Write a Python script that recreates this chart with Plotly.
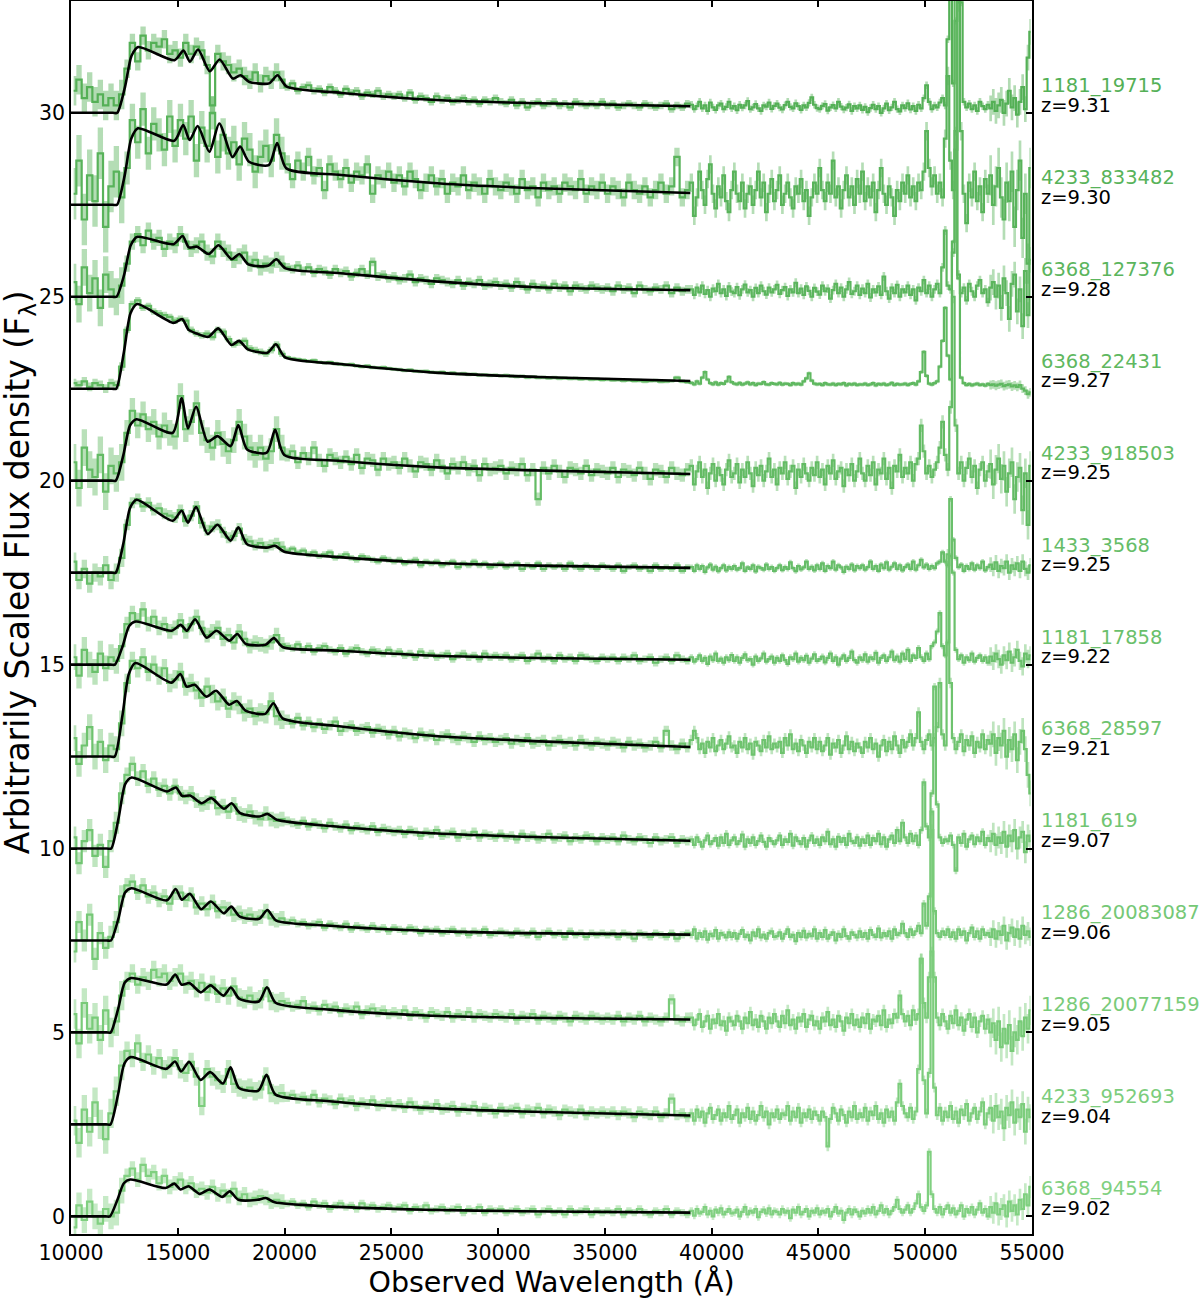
import numpy as np
import plotly.graph_objects as go

# ---------------- data ----------------
# bin centres in Angstrom: 250 A bins blueward of 39000 A, 125 A bins redward
WAVE = np.concatenate([np.arange(10125, 39000, 250), np.arange(39062.5, 55000, 125)])

NAMES = ["1181_19715", "4233_833482", "6368_127376", "6368_22431", "4233_918503",
         "1433_3568", "1181_17858", "6368_28597", "1181_619", "1286_20083087",
         "1286_20077159", "4233_952693", "6368_94554"]
REDSHIFTS = [9.31, 9.30, 9.28, 9.27, 9.25, 9.25, 9.22, 9.21, 9.07, 9.06, 9.05, 9.04, 9.02]
OFFSETS = [30.0, 27.5, 25.0, 22.5, 20.0, 17.5, 15.0, 12.5, 10.0, 7.5, 5.0, 2.5, 0.0]

FLUX_0 = [0.6, 0.9, 0.4, 0.7, 0.3, 0.5, 0.2, 0.4, 0.2, 0.5, 1.2, 1.9, 1.4, 2.1, 1.7, 1.9, 1.8, 2.0, 1.6, 1.7,
          1.5, 1.9, 1.6, 1.8, 1.7, 1.3, 0.2, 1.6, 1.4, 1.3, 1.1, 1.2, 1.0, 0.9, 1.1, 0.8, 1.0, 0.9, 1.1, 0.9,
          0.7, 0.8, 0.6, 0.7, 0.75, 0.6, 0.65, 0.55, 0.7, 0.6, 0.5, 0.65, 0.55, 0.6, 0.45, 0.55, 0.5, 0.6, 0.45, 0.5,
          0.45, 0.5, 0.4, 0.55, 0.35, 0.45, 0.4, 0.3, 0.45, 0.35, 0.4, 0.3, 0.35, 0.4, 0.3, 0.35, 0.25, 0.35, 0.3, 0.4,
          0.3, 0.25, 0.35, 0.2, 0.3, 0.15, 0.25, 0.3, 0.2, 0.25, 0.3, 0.2, 0.25, 0.15, 0.3, 0.25, 0.2, 0.25, 0.2, 0.3,
          0.2, 0.25, 0.15, 0.2, 0.25, 0.2, 0.15, 0.25, 0.2, 0.15, 0.2, 0.25, 0.1, 0.2, 0.15, 0.25] + \
         [0.22, 0.1, 0.18, 0.3, 0.12, 0.2, 0.05, 0.28, 0.15, 0.08, 0.2, 0.25, 0.1, 0.16, 0.3, 0.12,
          0.18, 0.07, 0.22, 0.14, 0.2, 0.32, 0.1, 0.15, 0.24, 0.12, 0.05, 0.2, 0.17, 0.28, 0.11, 0.19,
          0.25, 0.14, 0.09, 0.21, 0.3, 0.16, 0.12, 0.26, 0.18, 0.08, 0.2, 0.15, 0.27, 0.42, 0.22, 0.13,
          0.1, 0.19, 0.24, 0.06, 0.15, 0.21, 0.12, 0.3, 0.17, 0.09, 0.14, 0.23, 0.05, 0.18, 0.12, 0.2,
          0.08, 0.16, 0.02, 0.13, 0.22, 0.1, 0.18, 0.0, 0.12, 0.25, 0.07, 0.15, 0.3, 0.1, 0.04, 0.2,
          0.13, 0.26, 0.09, 0.18, 0.05, 0.22, 0.12, 0.4, 0.75, 0.3, 0.1, 0.2, 0.15, 0.28, 0.4, 0.2,
          2.0, 5.0, 0.8, 2.5, 7.0, 3.0, 0.3, 0.15, 0.25, 0.1, 0.2, 0.05, 0.3, 0.18, 0.1, 0.22,
          0.12, 0.3, 0.05, 0.2, 0.35, 0.0, 0.25, 0.6, 0.15, 0.4, -0.05, 0.3, 0.7, 0.1, 1.5, 2.2]
FLUX_1 = [0.3, 1.2, -0.4, 0.8, 0.1, 1.4, -0.6, 0.5, 0.9, 0.2, 1.0, 2.3, 1.7, 2.6, 1.4, 2.2, 1.9, 1.5, 2.4, 1.6,
          2.3, 1.8, 2.4, 1.2, 2.1, 1.6, 2.5, 1.3, 1.9, 1.4, 1.7, 1.1, 1.8, 1.5, 0.9, 1.3, 1.6, 1.2, 1.9, 1.4,
          1.1, 0.7, 1.2, 0.9, 1.3, 0.8, 1.0, 0.4, 1.1, 0.9, 0.7, 1.0, 0.6, 0.9, 0.8, 1.1, 0.3, 0.8, 0.7, 0.9,
          0.6, 0.8, 0.5, 0.9, 0.7, 0.4, 0.6, 0.8, 0.5, 0.7, 0.3, 0.6, 0.5, 0.8, 0.4, 0.6, 0.5, 0.3, 0.7, 0.5,
          0.4, 0.6, 0.5, 0.3, 0.7, 0.4, 0.5, 0.2, 0.6, 0.4, 0.5, 0.3, 0.6, 0.5, 0.4, 0.7, 0.3, 0.5, 0.4, 0.6,
          0.3, 0.5, 0.4, 0.2, 0.6, 0.4, 0.3, 0.5, 0.2, 0.4, 0.6, 0.3, 0.5, 1.3, 0.2, 0.4] + \
         [0.6, -0.3, 0.2, 0.9, 0.4, 0.0, 0.7, 1.1, 0.3, -0.1, 0.5, 0.2, 0.8, 0.1, -0.2, 0.4,
          0.9, 0.3, 0.1, 0.6, -0.1, 0.3, 0.5, 0.0, 0.4, 0.9, 0.2, 0.6, -0.2, 0.3, 0.7, 0.1,
          0.4, 0.8, 0.0, 0.3, 0.6, 0.2, -0.1, 0.5, 0.3, 0.7, 0.1, 0.4, -0.3, 0.2, 0.6, 0.3,
          1.0, 0.4, 0.1, 0.6, 0.3, 1.2, 0.2, 0.5, -0.1, 0.4, 0.8, 0.2, 0.5, 0.0, 0.7, 0.3,
          0.9, 0.1, 0.5, 0.2, 0.6, -0.2, 0.4, 1.0, 0.3, 0.0, 0.5, 0.2, -0.3, 0.4, 0.1, 0.6,
          0.3, 0.8, 0.2, 0.5, 0.1, 0.6, 0.4, 0.9, 2.0, 1.0, 0.5, 0.8, 0.3, 0.6, 0.2, 1.8,
          3.5, 1.2, 0.4, 1.5, 5.5, 2.0, 0.3, -0.5, 0.6, 0.2, 0.9, 0.1, 0.5, -0.2, 0.7, 0.3,
          0.8, 0.0, 0.5, 1.0, 0.2, -0.4, 0.6, 0.1, 0.9, -0.6, 0.4, 1.2, -0.9, 0.3, -1.6, 1.0]
FLUX_2 = [0.4, -0.2, 0.8, 0.1, 0.5, -0.3, 0.6, 0.2, 0.0, 0.3, 0.9, 1.5, 1.7, 1.4, 1.8, 1.5, 1.6, 1.3, 1.5, 1.4,
          1.7, 1.5, 1.3, 1.4, 1.5, 1.2, 1.1, 1.5, 1.3, 1.2, 1.0, 1.1, 1.2, 0.9, 1.0, 0.8, 0.9, 0.85, 1.0, 0.9,
          0.8, 0.75, 0.85, 0.7, 0.8, 0.65, 0.75, 0.7, 0.6, 0.75, 0.65, 0.7, 0.55, 0.65, 0.75, 0.6, 0.95, 0.55, 0.6, 0.5,
          0.55, 0.45, 0.5, 0.6, 0.4, 0.5, 0.45, 0.35, 0.5, 0.45, 0.4, 0.35, 0.45, 0.3, 0.4, 0.35, 0.45, 0.3, 0.35, 0.4,
          0.3, 0.35, 0.25, 0.4, 0.3, 0.2, 0.35, 0.25, 0.3, 0.2, 0.35, 0.25, 0.3, 0.15, 0.3, 0.25, 0.2, 0.3, 0.25, 0.2,
          0.25, 0.15, 0.3, 0.2, 0.25, 0.1, 0.3, 0.2, 0.15, 0.25, 0.2, 0.3, 0.1, 0.25, 0.15, 0.2] + \
         [0.2, 0.05, 0.25, 0.12, 0.3, 0.08, 0.18, 0.0, 0.22, 0.15, 0.35, 0.1, 0.2, 0.02, 0.28, 0.14,
          0.1, 0.26, 0.04, 0.2, 0.33, 0.12, 0.18, 0.0, 0.24, 0.1, 0.3, 0.15, 0.06, 0.25, 0.12, 0.2,
          0.32, 0.08, 0.18, 0.26, 0.02, 0.2, 0.12, 0.38, 0.1, 0.22, 0.05, 0.28, 0.16, 0.0, 0.24, 0.14,
          0.06, 0.3, 0.15, 0.22, -0.05, 0.18, 0.35, 0.1, 0.25, 0.0, 0.2, 0.4, 0.08, 0.15, 0.3, 0.05,
          0.22, 0.1, 0.35, -0.02, 0.2, 0.12, 0.28, 0.05, 0.55, 0.15, -0.05, 0.25, 0.1, 0.32, 0.0, 0.2,
          0.12, 0.3, 0.05, 0.2, -0.1, 0.25, 0.15, 0.45, 0.1, 0.3, 0.0, 0.2, 0.35, 0.1, 0.8, 1.8,
          0.3, 0.2, 1.2, 4.5, 0.6, 0.1, 0.25, -0.1, 0.35, 0.15, 0.0, 0.3, 0.45, 0.1, 0.2, -0.15,
          0.25, 0.4, 0.0, 0.3, -0.3, 0.5, 0.1, -0.6, 0.35, 0.6, -0.4, 0.2, -0.8, 0.7, -0.5, 1.0]
FLUX_3 = [0.15, 0.1, 0.2, 0.05, 0.15, 0.1, 0.0, 0.15, 0.1, 0.6, 1.6, 2.3, 2.4, 2.2, 2.25, 2.1, 2.05, 2.0, 1.95, 1.85,
          1.9, 1.85, 1.6, 1.5, 1.45, 1.5, 1.4, 1.6, 1.55, 1.35, 1.2, 1.25, 1.3, 1.1, 1.05, 1.0, 0.95, 1.05, 1.2, 0.95,
          0.85, 0.82, 0.8, 0.78, 0.75, 0.77, 0.72, 0.7, 0.72, 0.68, 0.67, 0.65, 0.66, 0.62, 0.6, 0.62, 0.58, 0.57, 0.58, 0.55,
          0.53, 0.52, 0.5, 0.51, 0.48, 0.47, 0.48, 0.45, 0.44, 0.45, 0.42, 0.43, 0.4, 0.41, 0.39, 0.4, 0.37, 0.38, 0.36, 0.37,
          0.35, 0.36, 0.34, 0.33, 0.34, 0.31, 0.32, 0.3, 0.31, 0.29, 0.3, 0.28, 0.29, 0.27, 0.28, 0.26, 0.27, 0.25, 0.26, 0.24,
          0.25, 0.23, 0.24, 0.22, 0.23, 0.21, 0.22, 0.2, 0.21, 0.22, 0.19, 0.2, 0.21, 0.3, 0.2, 0.18] + \
         [0.16, 0.12, 0.2, 0.14, 0.3, 0.45, 0.25, 0.15, 0.12, 0.17, 0.11, 0.15, 0.13, 0.2, 0.32, 0.18,
          0.14, 0.12, 0.16, 0.11, 0.14, 0.17, 0.12, 0.15, 0.1, 0.14, 0.13, 0.18, 0.12, 0.11, 0.15, 0.13,
          0.12, 0.16, 0.11, 0.14, 0.13, 0.1, 0.15, 0.12, 0.14, 0.11, 0.2, 0.28, 0.42, 0.22, 0.14, 0.12,
          0.13, 0.1, 0.15, 0.12, 0.11, 0.14, 0.1, 0.13, 0.12, 0.15, 0.09, 0.13, 0.11, 0.14, 0.1, 0.12,
          0.11, 0.14, 0.1, 0.12, 0.15, 0.09, 0.13, 0.11, 0.14, 0.1, 0.12, 0.16, 0.1, 0.13, 0.11, 0.12,
          0.14, 0.1, 0.13, 0.15, 0.11, 0.2, 0.45, 1.0, 0.35, 0.14, 0.11, 0.15, 0.2, 0.6, 1.3, 2.2,
          0.9, 0.25, 4.0, 11.0, 3.0, 0.3, 0.15, 0.1, 0.13, 0.09, 0.12, 0.14, 0.1, 0.12, 0.08, 0.13,
          0.1, 0.12, 0.08, 0.11, 0.13, 0.07, 0.1, 0.12, 0.06, 0.09, 0.05, 0.1, 0.0, -0.05, -0.15, -0.1]
FLUX_4 = [0.5, -0.2, 0.9, 0.3, 0.1, 0.7, -0.3, 0.4, 0.2, 0.5, 1.3, 1.9, 1.5, 1.8, 1.4, 1.6, 1.2, 1.5, 1.3, 1.2,
          2.3, 1.4, 1.6, 2.1, 1.3, 1.1, 0.9, 1.3, 1.0, 0.8, 1.1, 1.6, 1.2, 0.9, 0.7, 0.9, 0.6, 0.8, 1.4, 0.9,
          0.7, 0.8, 0.5, 0.75, 0.6, 0.9, 0.55, 0.4, 0.7, 0.6, 0.5, 0.65, 0.45, 0.7, 0.35, 0.6, 0.55, 0.3, 0.6, 0.45,
          0.5, 0.35, 0.6, 0.4, 0.25, 0.5, 0.45, 0.3, 0.55, 0.4, 0.2, 0.45, 0.35, 0.5, 0.3, 0.4, 0.15, 0.45, 0.3, 0.35,
          0.4, 0.2, 0.35, 0.3, 0.45, 0.15, 0.3, -0.5, 0.35, 0.2, 0.4, 0.25, 0.1, 0.35, 0.3, 0.2, 0.4, 0.15, 0.3, 0.25,
          0.2, 0.35, 0.1, 0.3, 0.25, 0.15, 0.35, 0.2, 0.05, 0.3, 0.25, 0.1, 0.35, 0.2, 0.15, 0.3] + \
         [0.4, -0.1, 0.25, 0.5, 0.1, 0.3, -0.2, 0.2, 0.45, 0.0, 0.35, 0.15, -0.1, 0.3, 0.55, 0.1,
          0.2, 0.45, -0.05, 0.3, 0.1, 0.5, 0.2, -0.15, 0.35, 0.15, 0.4, 0.0, 0.25, 0.6, 0.1, 0.3,
          -0.1, 0.35, 0.2, 0.5, 0.05, 0.25, 0.4, -0.2, 0.3, 0.1, 0.45, 0.2, 0.0, 0.35, 0.15, 0.5,
          0.1, 0.3, -0.1, 0.4, 0.2, 0.55, 0.05, 0.25, 0.35, -0.15, 0.3, 0.15, 0.45, 0.0, 0.25, 0.6,
          0.2, 0.0, 0.4, 0.15, 0.5, -0.1, 0.3, 0.2, 0.6, 0.05, 0.35, -0.2, 0.4, 0.25, 0.7, 0.1,
          0.35, 0.2, 0.5, 0.0, 0.45, 0.6, 1.5, 0.8, 0.2, 0.4, 0.1, 0.3, 0.5, 0.9, 1.6, 0.7,
          0.3, 2.0, 5.0, 1.5, 0.2, 0.5, 0.0, 0.35, 0.6, 0.1, 0.4, -0.2, 0.3, 0.5, 0.0, 0.25,
          0.45, -0.1, 0.3, 0.6, 0.05, 0.4, -0.3, 0.2, 0.5, -0.5, 0.1, 0.35, -0.8, 0.2, -1.2, 0.4]
FLUX_5 = [0.3, -0.2, 0.1, -0.3, 0.0, -0.1, 0.2, -0.2, 0.0, 0.4, 1.3, 1.9, 2.0, 1.8, 1.9, 1.7, 1.75, 1.6, 1.55, 1.5,
          1.7, 1.4, 1.55, 1.8, 1.35, 1.15, 1.25, 1.3, 1.1, 0.95, 1.0, 1.2, 0.9, 0.85, 0.75, 0.8, 0.7, 0.75, 0.8, 0.7,
          0.6, 0.65, 0.55, 0.6, 0.5, 0.55, 0.45, 0.5, 0.55, 0.4, 0.45, 0.5, 0.4, 0.35, 0.45, 0.4, 0.35, 0.3, 0.4, 0.35,
          0.3, 0.35, 0.25, 0.3, 0.35, 0.2, 0.3, 0.25, 0.3, 0.2, 0.25, 0.3, 0.15, 0.25, 0.2, 0.3, 0.2, 0.25, 0.15, 0.2,
          0.25, 0.15, 0.2, 0.25, 0.1, 0.2, 0.15, 0.25, 0.1, 0.2, 0.15, 0.2, 0.1, 0.25, 0.15, 0.1, 0.2, 0.15, 0.1, 0.2,
          0.15, 0.1, 0.2, 0.05, 0.15, 0.2, 0.1, 0.15, 0.05, 0.2, 0.1, 0.15, 0.1, 0.2, 0.05, 0.15] + \
         [0.15, 0.05, 0.2, 0.1, 0.18, 0.02, 0.14, 0.22, 0.08, 0.16, 0.04, 0.12, 0.2, 0.06, 0.15, 0.1,
          0.18, 0.08, 0.12, 0.25, 0.05, 0.14, 0.1, 0.2, 0.03, 0.16, 0.12, 0.08, 0.22, 0.1, 0.15, 0.05,
          0.12, 0.2, 0.07, 0.15, 0.1, 0.28, 0.12, 0.04, 0.18, 0.09, 0.14, 0.3, 0.1, 0.16, 0.06, 0.2,
          0.1, 0.25, 0.05, 0.18, 0.12, 0.3, 0.08, 0.2, 0.14, 0.02, 0.16, 0.1, 0.22, 0.06, 0.18, 0.12,
          0.2, 0.08, 0.15, 0.3, 0.1, 0.18, 0.05, 0.22, 0.12, 0.28, 0.08, 0.16, 0.25, 0.1, 0.2, 0.06,
          0.15, 0.22, 0.1, 0.3, 0.08, 0.2, 0.35, 0.14, 0.22, 0.1, 0.18, 0.12, 0.25, 0.3, 0.55, 0.3,
          0.2, 0.45, 0.9, 0.4, 0.15, 0.22, 0.05, 0.18, 0.1, 0.25, 0.08, 0.2, 0.12, 0.3, 0.06, 0.15,
          0.22, 0.1, 0.28, 0.05, 0.18, 0.12, 0.3, 0.0, 0.2, 0.1, 0.25, 0.05, 0.3, 0.1, 0.0, 0.2]
FLUX_6 = [0.2, -0.3, 0.4, 0.0, -0.2, 0.3, -0.1, 0.2, 0.1, 0.5, 1.1, 1.4, 1.2, 1.5, 1.1, 1.3, 1.0, 1.1, 0.9, 1.0,
          1.2, 0.9, 1.1, 1.3, 1.0, 0.8, 0.9, 1.0, 0.7, 0.8, 0.6, 0.9, 0.7, 0.5, 0.6, 0.55, 0.5, 0.6, 0.8, 0.55,
          0.5, 0.45, 0.55, 0.4, 0.5, 0.35, 0.45, 0.5, 0.4, 0.35, 0.45, 0.3, 0.4, 0.45, 0.35, 0.3, 0.4, 0.35, 0.3, 0.4,
          0.3, 0.35, 0.25, 0.3, 0.2, 0.35, 0.25, 0.3, 0.2, 0.25, 0.3, 0.15, 0.25, 0.3, 0.2, 0.25, 0.15, 0.3, 0.2, 0.25,
          0.2, 0.25, 0.15, 0.2, 0.25, 0.1, 0.2, 0.3, 0.15, 0.2, 0.1, 0.25, 0.15, 0.2, 0.1, 0.25, 0.2, 0.15, 0.1, 0.2,
          0.15, 0.2, 0.1, 0.2, 0.15, 0.25, 0.1, 0.15, 0.2, 0.05, 0.15, 0.2, 0.1, 0.25, 0.15, 0.1] + \
         [0.2, 0.08, 0.15, 0.25, 0.1, 0.18, 0.02, 0.22, 0.12, 0.3, 0.1, 0.16, 0.05, 0.2, 0.12, 0.26,
          0.1, 0.2, 0.05, 0.18, 0.28, 0.12, 0.15, 0.0, 0.22, 0.1, 0.17, 0.3, 0.08, 0.15, 0.22, 0.05,
          0.18, 0.1, 0.25, 0.12, 0.02, 0.2, 0.15, 0.3, 0.08, 0.18, 0.12, 0.24, 0.05, 0.16, 0.28, 0.1,
          0.15, 0.22, 0.06, 0.18, 0.3, 0.1, 0.2, 0.0, 0.16, 0.25, 0.1, 0.18, 0.35, 0.12, 0.05, 0.2,
          0.12, 0.28, 0.08, 0.2, 0.15, 0.32, 0.05, 0.18, 0.25, 0.1, 0.2, 0.35, 0.12, 0.22, 0.08, 0.3,
          0.15, 0.4, 0.1, 0.25, 0.18, 0.45, 0.2, 0.1, 0.3, 0.15, 0.5, 0.6, 0.9, 1.4, 0.5, 0.25,
          0.6, 4.5, 2.5, 0.4, 0.15, 0.25, 0.05, 0.2, 0.12, 0.3, 0.08, 0.18, 0.25, 0.1, 0.2, 0.05,
          0.22, 0.1, 0.3, 0.15, 0.0, 0.25, 0.12, 0.35, 0.05, 0.2, 0.4, 0.1, -0.05, 0.3, 0.15, 0.25]
FLUX_7 = [0.5, -0.2, 0.3, 0.8, 0.0, 0.4, -0.1, 0.3, 0.2, 0.9, 2.0, 2.6, 2.4, 2.7, 2.3, 2.5, 2.2, 2.4, 2.0, 2.1,
          2.3, 1.9, 2.0, 1.8, 1.6, 1.9, 1.7, 1.5, 1.6, 1.3, 1.5, 1.4, 1.2, 1.3, 1.1, 1.2, 1.15, 1.5, 1.1, 1.0,
          1.0, 0.9, 1.05, 0.85, 0.95, 0.8, 0.9, 0.75, 0.85, 0.95, 0.7, 0.8, 0.85, 0.7, 0.75, 0.8, 0.65, 0.75, 0.7, 0.6,
          0.7, 0.55, 0.65, 0.6, 0.5, 0.65, 0.55, 0.6, 0.45, 0.55, 0.6, 0.5, 0.45, 0.55, 0.5, 0.4, 0.55, 0.45, 0.5, 0.4,
          0.45, 0.5, 0.35, 0.45, 0.4, 0.5, 0.35, 0.4, 0.45, 0.3, 0.4, 0.45, 0.35, 0.4, 0.3, 0.45, 0.35, 0.3, 0.4, 0.35,
          0.3, 0.4, 0.35, 0.25, 0.4, 0.3, 0.35, 0.25, 0.3, 0.4, 0.25, 0.7, 0.3, 0.2, 0.35, 0.25] + \
         [0.45, 0.7, 0.5, 0.2, 0.35, 0.1, 0.4, 0.25, 0.5, 0.15, 0.3, 0.45, 0.2, 0.35, 0.55, 0.25,
          0.3, 0.1, 0.4, 0.25, 0.5, 0.2, 0.35, 0.05, 0.4, 0.3, 0.15, 0.45, 0.25, 0.55, 0.2, 0.35,
          0.25, 0.4, 0.1, 0.5, 0.3, 0.6, 0.2, 0.35, 0.15, 0.45, 0.3, 0.1, 0.4, 0.25, 0.5, 0.2,
          0.4, 0.15, 0.3, 0.5, 0.05, 0.35, 0.25, 0.45, 0.1, 0.3, 0.55, 0.2, 0.4, 0.15, 0.35, 0.25,
          0.1, 0.4, 0.25, 0.5, 0.2, 0.35, 0.0, 0.3, 0.45, 0.15, 0.4, 0.2, 0.55, 0.3, 0.1, 0.45,
          0.25, 0.4, 0.6, 0.3, 0.5, 1.2, 0.4, 0.2, 0.45, 0.6, 0.3, 0.5, 0.8, 2.0, 0.6, 0.3,
          5.5, 2.0, 0.5, 0.2, 0.4, 0.6, 0.15, 0.45, 0.3, 0.55, 0.1, 0.4, 0.25, 0.6, 0.2, 0.45,
          0.35, 0.6, 0.1, 0.5, 0.3, 0.7, 0.0, 0.45, 0.2, 0.6, -0.1, 0.4, 0.7, 0.2, -0.5, -1.0]
FLUX_8 = [0.3, -0.4, 0.2, 0.5, -0.2, 0.1, -0.5, 0.2, 0.7, 1.5, 2.0, 2.3, 1.9, 2.1, 1.7, 1.9, 1.6, 1.7, 1.5, 1.7,
          1.5, 1.4, 1.5, 1.3, 1.2, 1.25, 1.4, 1.1, 1.15, 1.0, 1.2, 0.95, 0.9, 1.0, 0.85, 0.8, 0.95, 0.8, 0.75, 0.8,
          0.75, 0.7, 0.65, 0.75, 0.6, 0.7, 0.65, 0.55, 0.7, 0.6, 0.55, 0.65, 0.5, 0.6, 0.55, 0.5, 0.6, 0.45, 0.55, 0.5,
          0.45, 0.5, 0.4, 0.5, 0.45, 0.35, 0.45, 0.4, 0.5, 0.35, 0.4, 0.45, 0.3, 0.4, 0.35, 0.45, 0.3, 0.4, 0.35, 0.3,
          0.4, 0.3, 0.35, 0.25, 0.4, 0.3, 0.35, 0.25, 0.3, 0.4, 0.25, 0.3, 0.35, 0.2, 0.3, 0.25, 0.35, 0.3, 0.2, 0.3,
          0.25, 0.3, 0.2, 0.35, 0.25, 0.2, 0.3, 0.25, 0.15, 0.3, 0.2, 0.25, 0.3, 0.15, 0.25, 0.2] + \
         [0.25, 0.1, 0.3, 0.18, 0.05, 0.22, 0.35, 0.12, 0.2, 0.28, 0.08, 0.3, 0.15, 0.4, 0.1, 0.22,
          0.3, 0.12, 0.2, 0.38, 0.05, 0.25, 0.15, 0.3, 0.1, 0.2, 0.35, 0.18, 0.05, 0.28, 0.2, 0.12,
          0.22, 0.35, 0.1, 0.25, 0.18, 0.4, 0.08, 0.3, 0.2, 0.12, 0.28, 0.05, 0.22, 0.35, 0.15, 0.25,
          0.1, 0.3, 0.2, 0.45, 0.12, 0.25, 0.05, 0.32, 0.18, 0.28, 0.1, 0.4, 0.2, 0.15, 0.3, 0.08,
          0.25, 0.15, 0.35, 0.1, 0.28, 0.2, 0.4, 0.12, 0.3, 0.05, 0.25, 0.35, 0.15, 0.5, 0.2, 0.7,
          0.3, 0.15, 0.4, 0.2, 0.35, 0.1, 0.5, 1.8, 0.6, 0.3, 1.5, 4.4, 1.2, 0.3, 0.15, 0.25,
          0.2, 0.35, 0.1, -0.6, 0.3, 0.15, 0.4, 0.05, 0.25, 0.35, 0.12, 0.3, 0.2, 0.45, 0.1, 0.28,
          0.2, 0.4, 0.1, 0.3, 0.15, 0.45, 0.05, 0.35, 0.2, 0.5, 0.0, 0.3, 0.45, -0.1, 0.35, 0.2]
FLUX_9 = [-0.3, 0.5, 0.0, 0.7, -0.5, 0.2, -0.2, 0.1, 0.5, 1.2, 1.5, 1.6, 1.3, 1.5, 1.2, 1.3, 1.1, 1.2, 1.0, 1.3,
          1.3, 1.1, 1.25, 0.9, 1.0, 0.85, 1.05, 0.8, 0.9, 0.85, 0.7, 0.75, 0.65, 0.7, 0.6, 0.65, 0.8, 0.6, 0.55, 0.6,
          0.5, 0.55, 0.45, 0.5, 0.4, 0.45, 0.5, 0.35, 0.45, 0.4, 0.35, 0.45, 0.3, 0.4, 0.35, 0.3, 0.4, 0.3, 0.35, 0.25,
          0.35, 0.3, 0.25, 0.35, 0.3, 0.2, 0.3, 0.25, 0.3, 0.2, 0.25, 0.3, 0.2, 0.25, 0.15, 0.25, 0.2, 0.3, 0.15, 0.2,
          0.25, 0.2, 0.15, 0.25, 0.2, 0.15, 0.25, 0.1, 0.2, 0.25, 0.15, 0.2, 0.1, 0.25, 0.15, 0.2, 0.1, 0.2, 0.15, 0.2,
          0.15, 0.2, 0.1, 0.2, 0.15, 0.05, 0.2, 0.15, 0.1, 0.2, 0.15, 0.1, 0.2, 0.05, 0.15, 0.2] + \
         [0.15, 0.3, 0.05, 0.2, 0.1, 0.25, 0.02, 0.18, 0.12, 0.28, 0.05, 0.2, 0.15, 0.08, 0.22, 0.1,
          0.2, 0.05, 0.18, 0.28, 0.1, 0.15, 0.0, 0.22, 0.12, 0.3, 0.08, 0.16, 0.05, 0.2, 0.25, 0.1,
          0.12, 0.22, 0.05, 0.18, 0.3, 0.1, 0.15, -0.02, 0.2, 0.1, 0.26, 0.08, 0.18, 0.12, 0.3, 0.05,
          0.2, 0.1, 0.28, 0.05, 0.15, 0.22, 0.0, 0.18, 0.1, 0.3, 0.12, 0.05, 0.22, 0.15, 0.08, 0.25,
          0.1, 0.2, 0.05, 0.28, 0.15, 0.1, 0.32, 0.08, 0.2, 0.12, 0.25, 0.05, 0.3, 0.15, 0.2, 0.45,
          0.2, 0.1, 0.3, 0.15, 0.25, 0.4, 0.2, 1.0, 0.4, 1.2, 3.5, 0.8, 0.2, 0.1, 0.25, 0.15,
          0.3, 0.1, 0.22, 0.05, 0.3, 0.15, 0.25, 0.0, 0.2, 0.35, 0.1, 0.25, 0.05, 0.3, 0.15, 0.2,
          0.1, 0.3, 0.05, 0.25, 0.15, 0.4, 0.0, 0.2, 0.35, 0.1, 0.3, 0.05, 0.4, 0.15, 0.25, 0.1]
FLUX_10 = [0.5, -0.3, 0.8, 0.1, 0.4, -0.2, 0.6, 0.0, 0.3, 1.0, 1.4, 1.6, 1.3, 1.5, 1.4, 1.7, 1.5, 1.6, 1.4, 1.5,
           1.6, 1.3, 1.4, 1.2, 1.35, 1.1, 1.3, 1.05, 1.2, 1.0, 1.25, 0.95, 0.9, 1.0, 0.85, 0.9, 1.2, 0.85, 0.8, 0.85,
           0.8, 0.7, 0.75, 0.85, 0.65, 0.7, 0.6, 0.75, 0.65, 0.7, 0.55, 0.65, 0.6, 0.7, 0.5, 0.6, 0.65, 0.55, 0.6, 0.5,
           0.55, 0.5, 0.6, 0.45, 0.55, 0.5, 0.4, 0.55, 0.5, 0.45, 0.55, 0.4, 0.5, 0.45, 0.55, 0.4, 0.5, 0.45, 0.4, 0.5,
           0.45, 0.4, 0.5, 0.35, 0.45, 0.4, 0.5, 0.35, 0.45, 0.4, 0.35, 0.45, 0.4, 0.3, 0.45, 0.4, 0.35, 0.45, 0.4, 0.35,
           0.4, 0.35, 0.45, 0.3, 0.4, 0.35, 0.45, 0.3, 0.4, 0.35, 0.3, 0.4, 0.9, 0.35, 0.3, 0.4] + \
          [0.4, 0.2, 0.35, 0.5, 0.15, 0.3, 0.45, 0.1, 0.35, 0.25, 0.5, 0.2, 0.3, 0.05, 0.4, 0.3,
           0.2, 0.45, 0.3, 0.1, 0.4, 0.25, 0.55, 0.2, 0.35, 0.15, 0.45, 0.3, 0.1, 0.4, 0.25, 0.5,
           0.3, 0.15, 0.45, 0.25, 0.6, 0.2, 0.35, 0.1, 0.4, 0.3, 0.5, 0.15, 0.35, 0.45, 0.2, 0.3,
           0.1, 0.4, 0.3, 0.55, 0.2, 0.35, 0.15, 0.45, 0.3, 0.05, 0.4, 0.25, 0.5, 0.2, 0.35, 0.15,
           0.4, 0.25, 0.5, 0.1, 0.35, 0.3, 0.45, 0.2, 0.6, 0.15, 0.35, 0.25, 0.5, 0.4, 1.0, 0.5,
           0.3, 0.45, 0.2, 0.6, 0.35, 0.5, 2.0, 0.8, 0.4, 1.5, 5.5, 1.5, 0.4, 0.2, 0.5, 0.3,
           0.1, 0.45, 0.25, 0.6, 0.2, 0.4, 0.05, 0.35, 0.5, 0.15, 0.4, 0.0, 0.3, 0.45, 0.1, 0.35,
           0.0, 0.25, -0.2, 0.3, -0.4, 0.1, -0.3, 0.2, -0.5, 0.0, -0.2, 0.3, -0.1, 0.4, 0.1, 0.6]
FLUX_11 = [0.1, -0.5, 0.4, -0.2, 0.6, 0.0, -0.4, 0.3, 0.9, 1.6, 2.0, 1.8, 2.2, 1.7, 1.9, 1.6, 1.8, 1.5, 1.6, 1.8,
           1.5, 1.4, 1.7, 1.3, 0.5, 1.5, 1.3, 1.2, 1.1, 1.5, 1.1, 1.0, 0.95, 1.0, 0.9, 0.95, 1.3, 0.85, 0.8, 0.85,
           0.75, 0.8, 0.7, 0.75, 0.65, 0.8, 0.6, 0.7, 0.65, 0.55, 0.7, 0.6, 0.65, 0.5, 0.6, 0.55, 0.65, 0.5, 0.55, 0.6,
           0.5, 0.55, 0.45, 0.6, 0.5, 0.4, 0.5, 0.45, 0.55, 0.4, 0.45, 0.5, 0.35, 0.45, 0.4, 0.5, 0.35, 0.45, 0.4, 0.3,
           0.45, 0.35, 0.4, 0.45, 0.3, 0.4, 0.35, 0.45, 0.3, 0.4, 0.35, 0.25, 0.4, 0.35, 0.3, 0.4, 0.25, 0.35, 0.3, 0.35,
           0.3, 0.35, 0.25, 0.35, 0.3, 0.2, 0.35, 0.3, 0.25, 0.35, 0.2, 0.3, 0.7, 0.25, 0.3, 0.2] + \
          [0.3, 0.1, 0.4, 0.2, 0.35, 0.05, 0.3, 0.45, 0.15, 0.25, 0.4, 0.1, 0.3, 0.2, 0.5, 0.15,
           0.25, 0.4, 0.05, 0.3, 0.2, 0.45, 0.15, 0.35, 0.1, 0.25, 0.5, 0.2, 0.35, 0.0, 0.3, 0.2,
           0.4, 0.15, 0.3, 0.25, 0.5, 0.1, 0.35, 0.2, 0.45, 0.05, 0.3, 0.2, 0.4, 0.15, 0.35, 0.25,
           0.1, 0.35, 0.2, -0.6, 0.15, 0.45, 0.3, 0.1, 0.4, 0.25, 0.05, 0.35, 0.2, 0.5, 0.15, 0.3,
           0.2, 0.45, 0.1, 0.35, 0.25, 0.5, 0.15, 0.3, 0.05, 0.4, 0.2, 0.35, 0.1, 0.6, 1.1, 0.5,
           0.3, 0.2, 0.45, 0.15, 0.35, 1.5, 4.5, 1.2, 0.3, 1.4, 4.7, 1.0, 0.25, 0.45, 0.1, 0.35,
           0.2, 0.5, 0.15, 0.35, 0.05, 0.4, 0.25, 0.55, 0.1, 0.3, 0.45, 0.15, 0.35, 0.6, 0.0, 0.3,
           0.45, 0.1, 0.5, 0.2, 0.35, -0.1, 0.45, 0.25, 0.6, 0.05, 0.4, 0.2, 0.55, -0.2, 0.4, 0.2]
FLUX_12 = [-0.3, 0.3, -0.1, 0.4, 0.0, -0.2, 0.2, 0.0, 0.1, 0.7, 1.1, 1.3, 1.0, 1.4, 1.1, 1.2, 0.9, 1.1, 0.8, 0.9,
           1.0, 0.8, 0.9, 0.7, 0.75, 0.65, 0.8, 0.6, 0.7, 0.55, 0.75, 0.5, 0.6, 0.45, 0.5, 0.55, 0.5, 0.4, 0.45, 0.4,
           0.35, 0.4, 0.3, 0.35, 0.25, 0.4, 0.3, 0.35, 0.2, 0.3, 0.35, 0.25, 0.3, 0.2, 0.35, 0.25, 0.3, 0.2, 0.25, 0.3,
           0.2, 0.25, 0.3, 0.15, 0.25, 0.2, 0.3, 0.15, 0.2, 0.25, 0.15, 0.2, 0.25, 0.1, 0.2, 0.15, 0.25, 0.1, 0.2, 0.15,
           0.2, 0.1, 0.15, 0.2, 0.1, 0.15, 0.2, 0.05, 0.15, 0.2, 0.1, 0.15, 0.05, 0.2, 0.1, 0.15, 0.2, 0.05, 0.15, 0.1,
           0.15, 0.1, 0.2, 0.05, 0.15, 0.1, 0.2, 0.1, 0.05, 0.15, 0.1, 0.2, 0.05, 0.15, 0.1, 0.05] + \
          [0.15, 0.02, 0.2, 0.08, 0.12, 0.25, 0.05, 0.15, 0.0, 0.18, 0.1, 0.22, 0.05, 0.12, 0.2, 0.08,
           0.1, 0.18, 0.0, 0.12, 0.25, 0.05, 0.15, 0.1, 0.2, -0.02, 0.12, 0.18, 0.08, 0.22, 0.05, 0.15,
           0.12, 0.05, 0.2, 0.1, 0.15, -0.05, 0.18, 0.1, 0.25, 0.05, 0.12, 0.2, 0.0, 0.15, 0.1, 0.22,
           0.05, 0.15, 0.1, 0.2, 0.0, 0.12, 0.25, 0.08, 0.15, -0.1, 0.1, 0.2, 0.05, 0.18, 0.12, 0.0,
           0.15, 0.08, 0.2, 0.1, 0.25, 0.05, 0.15, 0.3, 0.1, 0.2, 0.05, 0.15, 0.25, 0.45, 0.2, 0.1,
           0.18, 0.3, 0.1, 0.2, 0.35, 0.6, 0.25, 0.15, 0.3, 1.75, 0.6, 0.2, 0.1, 0.25, 0.05, 0.2,
           0.3, 0.1, 0.22, 0.05, 0.15, 0.3, 0.0, 0.2, 0.1, 0.25, 0.05, 0.18, 0.35, 0.1, 0.2, 0.0,
           0.25, 0.1, 0.35, 0.05, 0.2, 0.3, 0.0, 0.4, 0.15, 0.3, 0.05, 0.45, 0.2, 0.6, 0.3, 0.8]
FLUXES = [FLUX_0, FLUX_1, FLUX_2, FLUX_3, FLUX_4, FLUX_5, FLUX_6,
          FLUX_7, FLUX_8, FLUX_9, FLUX_10, FLUX_11, FLUX_12]

# 1-sigma uncertainty, piecewise per wavelength segment
ERR_EDGES = [10000, 12500, 20000, 39000, 53000, 55001]
ERRS = [[0.40, 0.25, 0.10, 0.10, 0.35],
        [0.70, 0.45, 0.25, 0.25, 0.55],
        [0.50, 0.22, 0.12, 0.12, 0.35],
        [0.12, 0.09, 0.05, 0.05, 0.12],
        [0.50, 0.35, 0.18, 0.18, 0.40],
        [0.25, 0.15, 0.08, 0.07, 0.20],
        [0.35, 0.20, 0.10, 0.08, 0.25],
        [0.35, 0.25, 0.14, 0.14, 0.35],
        [0.30, 0.20, 0.12, 0.10, 0.30],
        [0.30, 0.20, 0.10, 0.10, 0.25],
        [0.40, 0.25, 0.14, 0.15, 0.40],
        [0.40, 0.25, 0.14, 0.13, 0.35],
        [0.35, 0.20, 0.10, 0.10, 0.30]]

# best-fit model: knots in rest-frame Angstrom, plus the end of the model at 39000 A observed
MODEL_REST = [960, 1160, 1180, 1215, 1245, 1275, 1440, 1481, 1510, 1547, 1600,
              1645, 1705, 1740, 1780, 1870, 1908, 1950, 2200, 2650, 3100]
MODEL_END = 39000
MODELS = [
    [0, 0, 0, 0.70, 1.55, 1.79, 1.43, 1.69, 1.39, 1.72, 1.13, 1.45, 0.93, 1.02, 0.84, 0.80, 1.02, 0.71, 0.54, 0.34, 0.26, 0.18],
    [0, 0, 0, 0.80, 1.80, 2.08, 1.74, 2.17, 1.76, 2.14, 1.44, 2.21, 1.30, 1.58, 1.17, 1.08, 1.68, 0.99, 0.81, 0.58, 0.45, 0.32],
    [0, 0, 0, 0.60, 1.40, 1.63, 1.43, 1.65, 1.34, 1.36, 1.16, 1.40, 1.02, 1.16, 0.88, 0.84, 1.02, 0.77, 0.64, 0.41, 0.26, 0.18],
    [0, 0, 0, 1.00, 2.05, 2.30, 1.79, 1.89, 1.60, 1.50, 1.41, 1.64, 1.19, 1.30, 1.07, 0.98, 1.21, 0.85, 0.67, 0.43, 0.32, 0.21],
    [0, 0, 0, 0.70, 1.50, 1.67, 1.30, 2.24, 1.42, 2.01, 1.06, 1.21, 0.94, 1.51, 0.85, 0.76, 1.38, 0.70, 0.54, 0.36, 0.28, 0.18],
    [0, 0, 0, 0.80, 1.75, 1.98, 1.41, 1.68, 1.36, 1.78, 1.05, 1.30, 0.87, 1.23, 0.77, 0.68, 0.73, 0.57, 0.42, 0.26, 0.19, 0.13],
    [0, 0, 0, 0.50, 1.05, 1.17, 0.92, 1.08, 0.92, 1.23, 0.73, 0.92, 0.65, 0.83, 0.56, 0.54, 0.72, 0.47, 0.38, 0.24, 0.18, 0.13],
    [0, 0, 0, 1.10, 2.25, 2.54, 2.01, 2.24, 1.90, 1.95, 1.63, 1.79, 1.41, 1.51, 1.25, 1.16, 1.45, 1.04, 0.83, 0.56, 0.42, 0.26],
    [0, 0, 0, 0.85, 1.75, 1.93, 1.55, 1.66, 1.43, 1.44, 1.23, 1.37, 1.08, 1.23, 0.96, 0.87, 0.94, 0.78, 0.61, 0.42, 0.32, 0.21],
    [0, 0, 0, 0.60, 1.30, 1.42, 1.09, 1.40, 1.11, 1.27, 0.85, 1.06, 0.74, 0.92, 0.65, 0.59, 0.83, 0.54, 0.40, 0.26, 0.20, 0.16],
    [0, 0, 0, 0.65, 1.35, 1.48, 1.30, 1.57, 1.30, 1.34, 1.09, 1.28, 1.00, 1.22, 0.91, 0.84, 1.23, 0.80, 0.62, 0.46, 0.40, 0.35],
    [0, 0, 0, 0.80, 1.65, 1.83, 1.51, 1.71, 1.44, 1.70, 1.21, 1.42, 1.11, 1.55, 0.99, 0.92, 1.35, 0.81, 0.63, 0.45, 0.35, 0.24],
    [0, 0, 0, 0.45, 0.90, 1.00, 0.77, 0.89, 0.73, 0.82, 0.61, 0.73, 0.53, 0.68, 0.45, 0.45, 0.50, 0.38, 0.27, 0.18, 0.14, 0.10],
]

X_TICKS = [10000, 15000, 20000, 25000, 30000, 35000, 40000, 45000, 50000, 55000]
Y_TICKS = [0, 5, 10, 15, 20, 25, 30]

# ---------------- styling helpers ----------------
TOP_RGB = (84, 176, 86)
BOT_RGB = (128, 208, 128)
n = len(NAMES)


def rgb(i, a=1.0):
    t = i / (n - 1)
    c = [round(TOP_RGB[k] + (BOT_RGB[k] - TOP_RGB[k]) * t) for k in range(3)]
    return f"rgba({c[0]},{c[1]},{c[2]},{a})"


seg = np.searchsorted(ERR_EDGES, WAVE, side="right") - 1

fig = go.Figure()

for i in range(n):
    flux = np.array(FLUXES[i]) + OFFSETS[i]
    err = np.array(ERRS[i])[seg]
    fig.add_trace(go.Scatter(x=WAVE, y=flux + err, mode="lines", line=dict(width=0, shape="hvh"),
                             hoverinfo="skip", showlegend=False))
    fig.add_trace(go.Scatter(x=WAVE, y=flux - err, mode="lines", line=dict(width=0, shape="hvh"),
                             fill="tonexty", fillcolor=rgb(i, 0.45), hoverinfo="skip", showlegend=False))
    fig.add_trace(go.Scatter(x=WAVE, y=flux, mode="lines", line=dict(color=rgb(i), width=2.2, shape="hvh"),
                             showlegend=False, name=NAMES[i]))

for i in range(n):
    mx = [r * (1 + REDSHIFTS[i]) for r in MODEL_REST] + [MODEL_END]
    my = [v + OFFSETS[i] for v in MODELS[i]]
    fig.add_trace(go.Scatter(x=mx, y=my, mode="lines",
                             line=dict(color="black", width=2.6, shape="spline", smoothing=0.7),
                             showlegend=False))

for i in range(n):
    fig.add_annotation(x=1.0075, xref="paper", y=OFFSETS[i] + 0.75, yref="y", text=NAMES[i],
                       showarrow=False, xanchor="left", yanchor="middle",
                       font=dict(size=19.5, color=rgb(i)))
    fig.add_annotation(x=1.0075, xref="paper", y=OFFSETS[i] + 0.21, yref="y", text=f"z={REDSHIFTS[i]:.2f}",
                       showarrow=False, xanchor="left", yanchor="middle",
                       font=dict(size=19.5, color="black"))

# y-axis label (placed as in the reference, slightly above the axis centre)
fig.add_annotation(x=-0.0536, xref="paper", y=0.537, yref="paper",
                   text="Arbitrarily Scaled Flux density (F<sub>λ</sub>)", textangle=-90,
                   showarrow=False, xanchor="center", yanchor="middle", borderpad=0,
                   font=dict(size=33, color="black"))

axis_common = dict(showgrid=False, zeroline=False, showline=True, linecolor="black", linewidth=1.5,
                   mirror="ticks", ticks="inside", ticklen=6, tickwidth=1.5, tickcolor="black",
                   tickfont=dict(size=20.5, color="black"))

fig.update_xaxes(range=[10000, 55000], tickvals=X_TICKS, ticktext=[str(v) for v in X_TICKS],
                 title=dict(text="Observed Wavelength (Å)", font=dict(size=28.5, color="black"), standoff=8),
                 **axis_common)
fig.update_yaxes(range=[-0.48, 33.04], tickvals=Y_TICKS, ticktext=[str(v) for v in Y_TICKS],
                 **axis_common)

fig.update_layout(width=1200, height=1301, margin=dict(l=71, r=168, t=1, b=67, autoexpand=False),
                  plot_bgcolor="white", paper_bgcolor="white",
                  font=dict(family="DejaVu Sans", color="black"), showlegend=False)

fig.write_html("out.html")
